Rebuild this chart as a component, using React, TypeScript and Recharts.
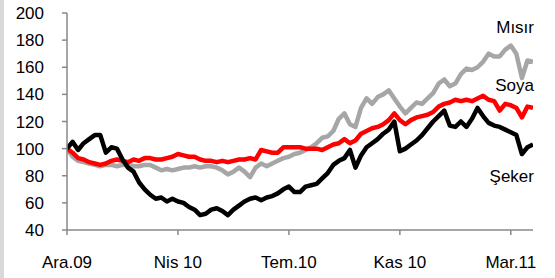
import React from "react";
import { LineChart, Line, XAxis, YAxis } from "recharts";

const xTickLabels = ["Ara.09", "Nis 10", "Tem.10", "Kas 10", "Mar.11"];
const xTickPositions = [0, 20, 40, 60, 80];
const yTicks = [40, 60, 80, 100, 120, 140, 160, 180, 200];

const seker = [
  100, 105, 99, 104, 107, 110, 110, 97, 101, 100,
  92, 86, 83, 75, 70, 66, 63, 64, 61, 63,
  61, 60, 57, 55, 51, 52, 55, 56, 54, 51,
  55, 58, 61, 63, 64, 62, 64, 65, 67, 70,
  72, 68, 68, 72, 73, 74, 78, 82, 88, 91,
  93, 99, 86, 95, 101, 104, 107, 111, 114, 120,
  98, 100, 103, 106, 110, 115, 120, 124, 128, 117,
  116, 120, 116, 122, 130, 124, 119, 117, 116, 114,
  112, 110, 96, 101, 103,
];

const soya = [
  100, 97, 93, 92, 90, 89, 88, 89, 91, 92,
  91, 90, 92, 91, 93, 93, 92, 92, 93, 94,
  96, 95, 94, 94, 92, 91, 91, 90, 91, 90,
  91, 92, 92, 93, 92, 99, 98, 97, 97, 101,
  101, 101, 101, 100, 100, 100, 99, 101, 103, 104,
  107, 104, 106, 111, 113, 115, 116, 118, 121, 126,
  121, 118, 121, 123, 124, 125, 127, 131, 133, 134,
  136, 135, 136, 135, 137, 139, 136, 135, 128, 133,
  132, 130, 123, 131, 130,
];

const misir = [
  100, 94, 91, 90, 89, 88, 87, 88, 88, 87,
  88, 88, 87, 87, 88, 88, 86, 84, 85, 84,
  85, 86, 86, 87, 86, 87, 87, 86, 84, 81,
  83, 86, 83, 79, 86, 89, 87, 89, 91, 93,
  94, 96, 97, 99, 101, 104, 108, 109, 113, 122,
  126, 118, 116, 130, 137, 133, 138, 140, 143, 137,
  131, 126, 130, 134, 133, 137, 141, 148, 151, 146,
  148, 155, 159, 158, 160, 164, 170, 168, 168, 173,
  176, 170, 152, 165, 164,
];

const data = seker.map((v, i) => ({
  i,
  seker: v,
  soya: soya[i],
  misir: misir[i],
}));

const LAST = seker.length - 1;
const FONT = "'Liberation Sans', Arial, sans-serif";

const makeLabel = (text: string, dy: number) => (props: any) => {
  if (props.index !== LAST) return <g />;
  return (
    <text
      x={props.x + 1}
      y={props.y + dy}
      textAnchor="end"
      fontSize={17}
      fontFamily={FONT}
      fill="#000"
    >
      {text}
    </text>
  );
};

export default function App() {
  return (
    <div style={{ position: "absolute", left: 0, top: 0, width: 555, height: 278, background: "#fff" }}>
      <div style={{ position: "absolute", left: 0, top: 0, width: 4, height: 278, background: "#d9d9d9" }} />
      <div style={{ position: "absolute", left: 0, top: 0 }}>
        <LineChart
          width={555}
          height={278}
          data={data}
          margin={{ top: 13, right: 22, bottom: 0, left: 0 }}
        >
          <XAxis
            dataKey="i"
            type="number"
            domain={[0, 84]}
            ticks={xTickPositions}
            tickFormatter={(v: number) => xTickLabels[xTickPositions.indexOf(v)] ?? ""}
            height={48}
            tickSize={5}
            tickMargin={21}
            stroke="#888"
            strokeWidth={1.5}
            tick={{ fill: "#000", fontSize: 17, fontFamily: FONT }}
            interval={0}
            allowDataOverflow
          />
          <YAxis
            type="number"
            domain={[40, 200]}
            ticks={yTicks}
            width={67}
            tickSize={5}
            tickMargin={18}
            stroke="#888"
            strokeWidth={1.5}
            tick={{ fill: "#000", fontSize: 17, fontFamily: FONT }}
            interval={0}
          />
          <Line
            dataKey="misir"
            stroke="#a6a6a6"
            strokeWidth={4.5}
            dot={false}
            isAnimationActive={false}
            strokeLinejoin="round"
            label={makeLabel("Mısır", -29)}
          />
          <Line
            dataKey="soya"
            stroke="#ff0000"
            strokeWidth={4.5}
            dot={false}
            isAnimationActive={false}
            strokeLinejoin="round"
            label={makeLabel("Soya", -17)}
          />
          <Line
            dataKey="seker"
            stroke="#000000"
            strokeWidth={4.5}
            dot={false}
            isAnimationActive={false}
            strokeLinejoin="round"
            label={makeLabel("Şeker", 37)}
          />
        </LineChart>
      </div>
    </div>
  );
}
